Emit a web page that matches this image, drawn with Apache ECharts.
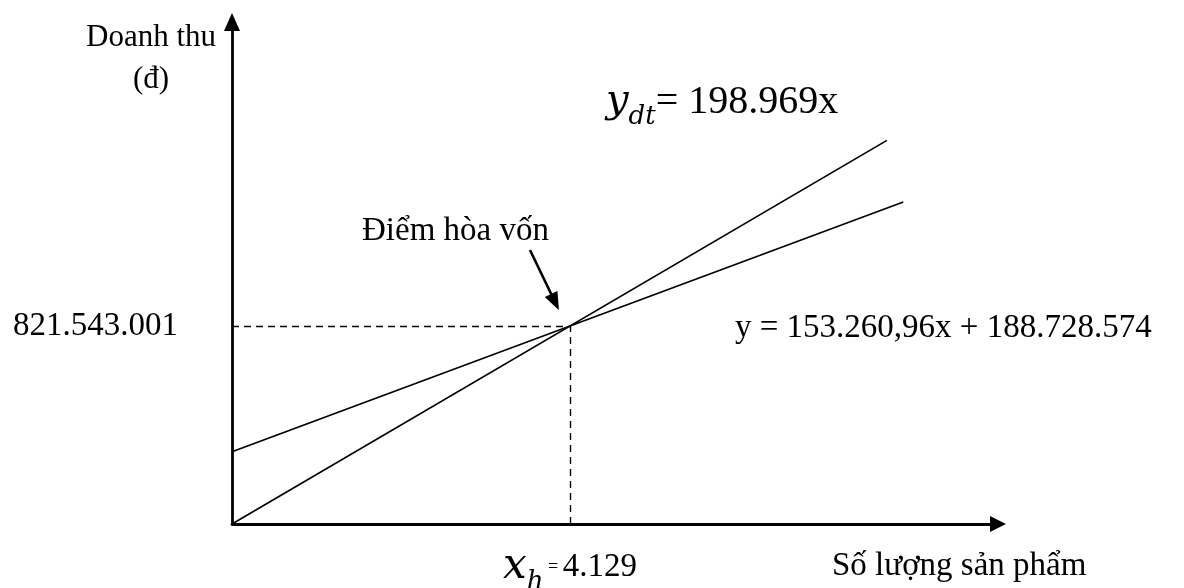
<!DOCTYPE html>
<html>
<head>
<meta charset="utf-8">
<script src="https://cdn.jsdelivr.net/npm/echarts@6/dist/echarts.min.js"></script>
<style>
html,body{margin:0;padding:0;background:#fff;}
#chart{width:1184px;height:588px;}
</style>
</head>
<body>
<div id="chart"></div>
<script>
// ---- data ----
const revenueLine = [[0, 0], [8000, 1591752000]];              // y_dt = 198.969x
const costLine = [[0, 300000000], [4129, 821543001], [8200, 1336000000]];
const breakEven = [4129, 821543001];
const xTickValues = [4129];
const yTickValues = [821543001];
const yTickLabels = ['821.543.001'];
const annotationArrow = [[3640, 1137000000], [3946, 921000000]];
const axisRange = { xMax: 9357, yMax: 2083000000 };
const texts = {
  yName1: 'Doanh thu', yName2: '(đ)', xName: 'Số lượng sản phẩm',
  bep: 'Điểm hòa vốn', costEq: 'y = 153.260,96x + 188.728.574',
  revEq: '= 198.969x', xh: '4.129'
};

const SERIF = '"Liberation Serif", "Times New Roman", serif';
const MATH = '"DejaVu Serif", serif';

const chart = echarts.init(document.getElementById('chart'));
chart.setOption({
  animation: false,
  backgroundColor: '#fff',
  grid: { left: 232, right: 186, top: 22, bottom: 64, containLabel: false, outerBoundsMode: 'none' },
  xAxis: {
    type: 'value', min: 0, max: axisRange.xMax,
    splitLine: { show: false }, axisTick: { show: false },
    axisLine: { show: true, lineStyle: { color: '#000', width: 2.8 }, symbol: ['none', 'triangle'], symbolSize: [16, 16] },
    axisLabel: {
      customValues: xTickValues, margin: 15, showMinLabel: true,
      formatter: () => '{x|x}{h|h}{eq| = }{v|' + texts.xh + '}',
      rich: {
        x: { fontSize: 42, fontStyle: 'italic', fontFamily: MATH, color: '#000', lineHeight: 56 },
        h: { fontSize: 26, fontStyle: 'italic', fontFamily: MATH, color: '#000', lineHeight: 24, verticalAlign: 'bottom' },
        eq: { fontSize: 18, fontFamily: SERIF, color: '#000', lineHeight: 56 },
        v: { fontSize: 33, fontFamily: SERIF, color: '#000', lineHeight: 56 }
      }
    }
  },
  yAxis: {
    type: 'value', min: 0, max: axisRange.yMax,
    splitLine: { show: false }, axisTick: { show: false },
    axisLine: { show: true, lineStyle: { color: '#000', width: 2.8 }, symbol: ['none', 'triangle'], symbolSize: [16, 18] },
    axisLabel: {
      customValues: yTickValues, margin: 54,
      formatter: (v) => yTickLabels[yTickValues.indexOf(v)] || '',
      fontSize: 33, fontFamily: SERIF, color: '#000'
    }
  },
  series: [
    {
      type: 'line', name: 'Doanh thu', data: revenueLine, showSymbol: false, symbol: 'none',
      lineStyle: { color: '#000', width: 1.7 },
      markLine: {
        silent: true, symbol: 'none', label: { show: false },
        lineStyle: { color: '#000', width: 1.4, type: [7, 5] },
        data: [
          [{ coord: [0, breakEven[1]] }, { coord: [breakEven[0], breakEven[1]] }],
          [{ coord: [breakEven[0], 0] }, { coord: [breakEven[0], breakEven[1]] }]
        ]
      }
    },
    {
      type: 'line', name: 'Chi phí', data: costLine, showSymbol: false, symbol: 'none',
      lineStyle: { color: '#000', width: 1.7 },
      markLine: {
        silent: true, symbol: ['none', 'triangle'], symbolSize: [14, 18], label: { show: false },
        lineStyle: { color: '#000', width: 2.6, type: 'solid' },
        data: [[{ coord: annotationArrow[0] }, { coord: annotationArrow[1] }]]
      }
    }
  ],
  graphic: [
    { type: 'text', x: 151, y: 38, style: { text: texts.yName1, fontSize: 31, fontFamily: SERIF, fill: '#000', align: 'center', verticalAlign: 'middle' } },
    { type: 'text', x: 151, y: 80, style: { text: texts.yName2, fontSize: 31, fontFamily: SERIF, fill: '#000', align: 'center', verticalAlign: 'middle' } },
    { type: 'text', x: 832, y: 566, style: { text: texts.xName, fontSize: 33, fontFamily: SERIF, fill: '#000', align: 'left', verticalAlign: 'middle' } },
    { type: 'text', x: 362, y: 231, style: { text: texts.bep, fontSize: 33, fontFamily: SERIF, fill: '#000', align: 'left', verticalAlign: 'middle' } },
    { type: 'text', x: 735, y: 328, style: { text: texts.costEq, fontSize: 33, fontFamily: SERIF, fill: '#000', align: 'left', verticalAlign: 'middle' } },
    { type: 'text', x: 606, y: 102, style: {
        text: '{y|y}{dt|dt}{eq|' + texts.revEq + '}', align: 'left', verticalAlign: 'middle',
        rich: {
          y: { fontSize: 40, fontStyle: 'italic', fontFamily: MATH, fill: '#000', lineHeight: 56 },
          dt: { fontSize: 26, fontStyle: 'italic', fontFamily: MATH, fill: '#000', lineHeight: 26, verticalAlign: 'bottom' },
          eq: { fontSize: 40, fontFamily: SERIF, fill: '#000', lineHeight: 56 }
        }
    } }
  ]
});
</script>
</body>
</html>
